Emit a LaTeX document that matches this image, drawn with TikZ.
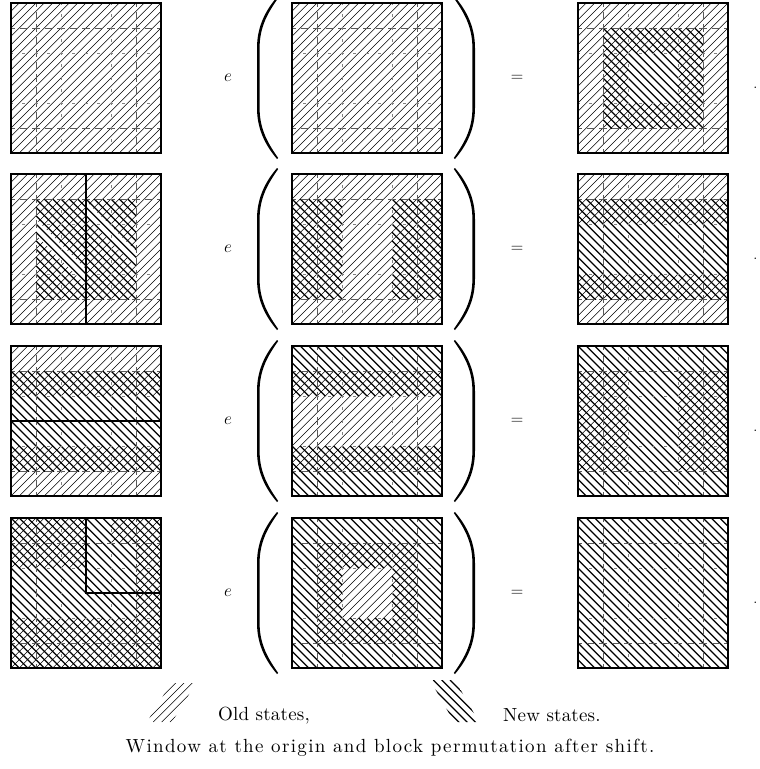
\documentclass[tikz,border=0pt]{standalone}
\usepackage{fontspec}
\newfontfamily\capfont{lmroman10-regular.otf}[LetterSpace=7]
\newfontfamily\legfont{lmroman10-regular.otf}[LetterSpace=1]
\newcommand\OLDH{\foreach \k in {0,...,36}{\draw[oldl] ({\k*25/3},0) -- ++(-150,150);}}
\newcommand\NEWH{\foreach \k in {-18,...,18}{\draw[newl] ({\k*25/3},0) -- ++(150,150);}}
\newcommand\GRID{%
  \foreach \g in {25,125}{\draw[gridA] (\g,0) -- (\g,150); \draw[gridA] (0,\g) -- (150,\g);}%
  \foreach \g in {50,100}{\draw[gridB] (\g,0) -- (\g,150); \draw[gridB] (0,\g) -- (150,\g);}}
\newcommand\FRAME{\draw[frame] (0,0) rectangle (150,150);}
\begin{document}
\begin{tikzpicture}[x=1pt,y=-1pt,
  oldl/.style={line width=0.55pt},
  newl/.style={line width=1.25pt},
  gridA/.style={black!65, line width=0.6pt, dash pattern=on 8pt off 4.5pt, dash phase=4pt},
  gridB/.style={black!50, line width=0.5pt, dash pattern=on 3pt off 9.5pt, dash phase=1.5pt},
  frame/.style={line width=2.8pt},
  sep/.style={line width=2.8pt},
  paren/.style={fill=black, draw=none},
  lbl/.style={inner sep=0pt, font=\fontsize{18}{21}\selectfont},
  txt/.style={inner sep=0pt, anchor=base, font=\fontsize{19}{23}\selectfont\legfont},
  captxt/.style={inner sep=0pt, anchor=base, font=\fontsize{19}{23}\selectfont\capfont}]
\useasboundingbox (0,0) rectangle (760,769);

% ---------- Row 1 ----------
\begin{scope}[shift={(11,3)}]
  \begin{scope}\clip (0,0) rectangle (150,150); \OLDH \end{scope}
  \GRID \FRAME
\end{scope}
\begin{scope}[shift={(292,3)}]
  \begin{scope}\clip (0,0) rectangle (150,150); \OLDH \end{scope}
  \GRID \FRAME
\end{scope}
\begin{scope}[shift={(578,3)}]
  \begin{scope}[even odd rule]\clip (0,0) rectangle (150,150) (50,50) rectangle (100,100); \OLDH \end{scope}
  \begin{scope}\clip (25,25) rectangle (125,125); \NEWH \end{scope}
  \GRID \FRAME
\end{scope}

% ---------- Row 2 ----------
\begin{scope}[shift={(11,174)}]
  \begin{scope}[even odd rule]\clip (0,0) rectangle (150,150)
     (25,45) -- (75,95) -- (75,111) -- (25,61) -- cycle
     (75,27) -- (125,77) -- (125,93) -- (75,43) -- cycle; \OLDH \end{scope}
  \begin{scope}\clip (25,25) rectangle (125,125); \NEWH \end{scope}
  \GRID
  \draw[sep] (75,0) -- (75,150);
  \FRAME
\end{scope}
\begin{scope}[shift={(292,174)}]
  \begin{scope}\clip (0,0) rectangle (150,150); \OLDH \end{scope}
  \begin{scope}\clip (0,25) rectangle (50,125) (100,25) rectangle (150,125); \NEWH \end{scope}
  \GRID \FRAME
\end{scope}
\begin{scope}[shift={(578,174)}]
  \begin{scope}\clip (0,0) rectangle (150,50) (0,100) rectangle (150,150); \OLDH \end{scope}
  \begin{scope}\clip (0,25) rectangle (150,125); \NEWH \end{scope}
  \GRID \FRAME
\end{scope}

% ---------- Row 3 ----------
\begin{scope}[shift={(11,346)}]
  \begin{scope}\clip (0,0) rectangle (150,50) (0,100) rectangle (150,150); \OLDH \end{scope}
  \begin{scope}\clip (0,25) rectangle (150,125); \NEWH \end{scope}
  \GRID
  \draw[sep] (0,75) -- (150,75);
  \FRAME
\end{scope}
\begin{scope}[shift={(292,346)}]
  \begin{scope}\clip (0,25) rectangle (150,125); \OLDH \end{scope}
  \begin{scope}\clip (0,0) rectangle (150,50) (0,100) rectangle (150,150); \NEWH \end{scope}
  \GRID \FRAME
\end{scope}
\begin{scope}[shift={(578,346)}]
  \begin{scope}\clip (0,25) rectangle (50,125) (100,25) rectangle (150,125); \OLDH \end{scope}
  \begin{scope}\clip (0,0) rectangle (150,150); \NEWH \end{scope}
  \GRID \FRAME
\end{scope}

% ---------- Row 4 ----------
\begin{scope}[shift={(11,518)}]
  \begin{scope}\clip (0,0) rectangle (75,50) (100,0) rectangle (150,25)
     (125,0) rectangle (150,150) (0,100) rectangle (150,150); \OLDH \end{scope}
  \begin{scope}\clip (0,0) rectangle (150,150); \NEWH \end{scope}
  \GRID
  \draw[sep] (75,0) -- (75,75) -- (150,75);
  \FRAME
\end{scope}
\begin{scope}[shift={(292,518)}]
  \begin{scope}\clip (25,25) rectangle (125,125); \OLDH \end{scope}
  \begin{scope}[even odd rule]\clip (0,0) rectangle (150,150) (50,50) rectangle (100,100); \NEWH \end{scope}
  \GRID \FRAME
\end{scope}
\begin{scope}[shift={(578,518)}]
  \begin{scope}\clip (0,0) rectangle (150,150); \NEWH \end{scope}
  \GRID \FRAME
\end{scope}

% ---------- operators ----------
\foreach \r/\y in {1/78,2/249,3/421,4/593}{
  \node[lbl] (e\r) at (228,\y) {$e$};
  \fill[paren] (277,\y-81) .. controls (266,\y-68) and (257,\y-52) .. (257,\y-30)
     -- (257,\y+30) .. controls (257,\y+52) and (266,\y+68) .. (277,\y+81)
     -- (278.2,\y+80) .. controls (268.5,\y+66) and (259.6,\y+52) .. (259.6,\y+30)
     -- (259.6,\y-30) .. controls (259.6,\y-52) and (268.5,\y-66) .. (278.2,\y-80) -- cycle;
  \fill[paren] (455,\y-81) .. controls (466,\y-68) and (475,\y-52) .. (475,\y-30)
     -- (475,\y+30) .. controls (475,\y+52) and (466,\y+68) .. (455,\y+81)
     -- (453.8,\y+80) .. controls (463.5,\y+66) and (472.4,\y+52) .. (472.4,\y+30)
     -- (472.4,\y-30) .. controls (472.4,\y-52) and (463.5,\y-66) .. (453.8,\y-80) -- cycle;
  \node[lbl] (eq\r) at (517,\y) {$=$};
  \node[lbl, anchor=west] (dot\r) at (753,\y+10) {.};
}

% ---------- legend ----------
\begin{scope}
  \clip (147,722) -- (172,722) -- (196,683) -- (171,683) -- cycle;
  \foreach \i in {0,...,8}{\draw[oldl] (120+\i*25/3,722) -- ++(42,-42);}
\end{scope}
\begin{scope}
  \clip (430,680) -- (455,680) -- (479,722) -- (454,722) -- cycle;
  \foreach \i in {0,...,8}{\draw[newl] (400+\i*25/3,680) -- ++(44,44);}
\end{scope}
\node[txt, anchor=base west] (old) at (218,720) {Old states,};
\node[txt, anchor=base west] (new) at (503,721) {New states.};
\node[captxt] (cap) at (390,752) {Window at the origin and block permutation after shift.};
\end{tikzpicture}
\end{document}
